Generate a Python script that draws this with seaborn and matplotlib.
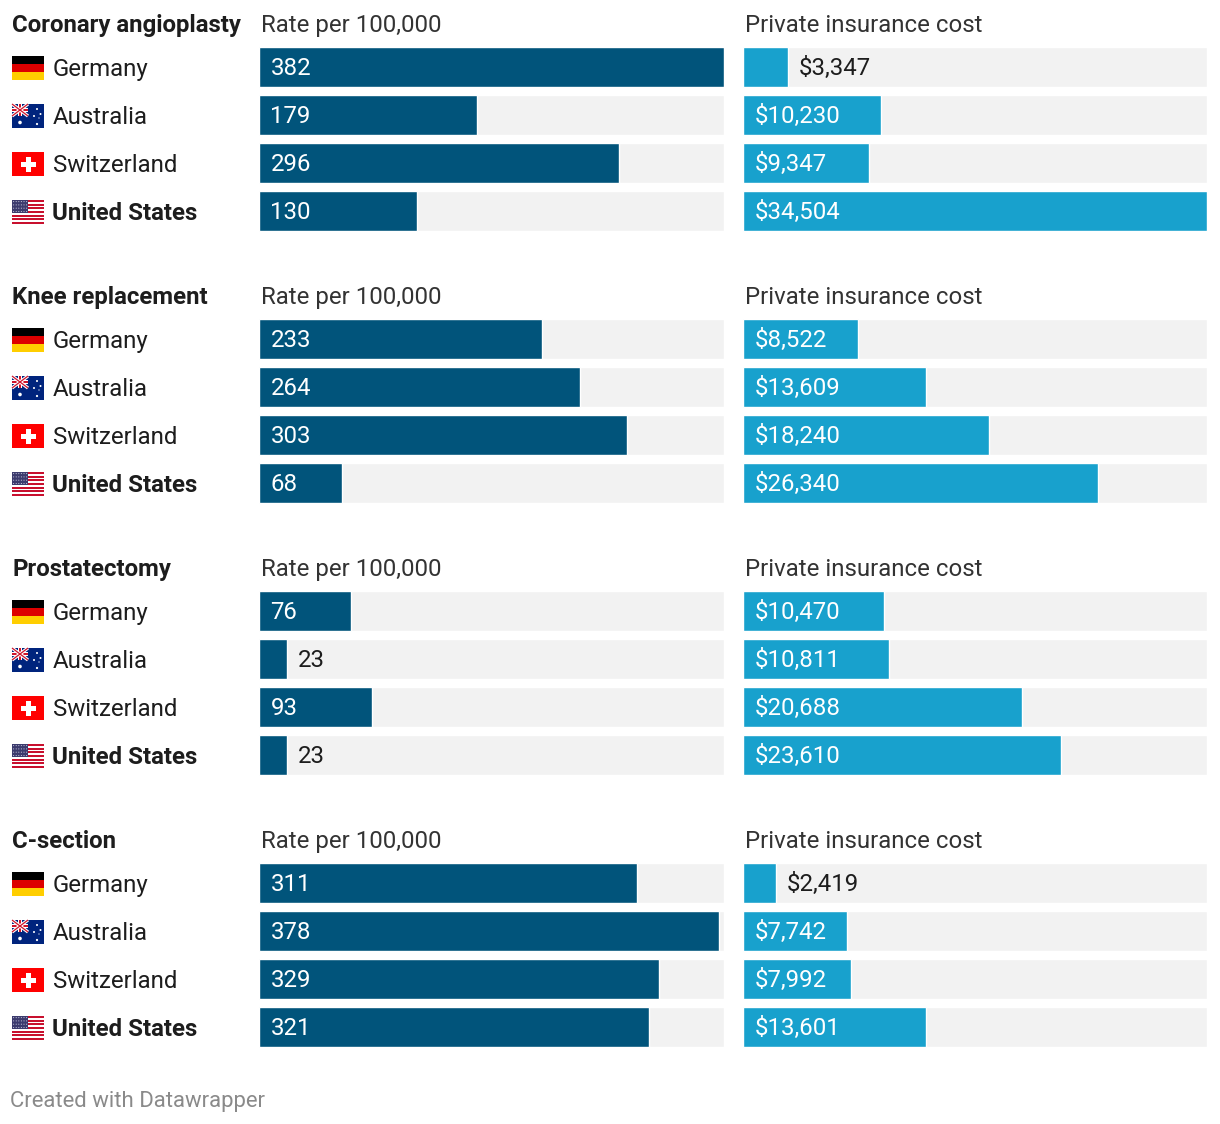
import matplotlib
matplotlib.use("Agg")
import matplotlib.pyplot as plt
import seaborn as sns
import pandas as pd
import numpy as np
from matplotlib.patches import Rectangle, Polygon, Circle

sns.set_theme(style="white")
plt.rcParams['font.family'] = ['Roboto', 'DejaVu Sans']

procedures = ["Coronary angioplasty", "Knee replacement", "Prostatectomy", "C-section"]
countries = ["Germany", "Australia", "Switzerland", "United States"]
rate_angioplasty = [382, 179, 296, 130]
rate_knee = [233, 264, 303, 68]
rate_prostate = [76, 23, 93, 23]
rate_csection = [311, 378, 329, 321]
cost_angioplasty = [3347, 10230, 9347, 34504]
cost_knee = [8522, 13609, 18240, 26340]
cost_prostate = [10470, 10811, 20688, 23610]
cost_csection = [2419, 7742, 7992, 13601]
rates = [rate_angioplasty, rate_knee, rate_prostate, rate_csection]
costs = [cost_angioplasty, cost_knee, cost_prostate, cost_csection]
rate_header = "Rate per 100,000"
cost_header = "Private insurance cost"
footer = "Created with Datawrapper"

W, H = 1220, 1124
DPI = 100
fig = plt.figure(figsize=(W / DPI, H / DPI), dpi=DPI)
fig.patch.set_facecolor("white")

DARK = "#01547b"
LIGHT = "#18a1cd"
BG = "#f2f2f2"
TXT = "#1d1d1d"
FS = 17.3

rate_max = max(max(r) for r in rates)
cost_max = max(max(c) for c in costs)

# overlay axes in pixel coordinates
ov = fig.add_axes([0, 0, 1, 1])
ov.set_xlim(0, W)
ov.set_ylim(H, 0)
ov.axis("off")
ov.set_zorder(5)

renderer = fig.canvas.get_renderer()

def text_width_px(s, weight="normal"):
    t = fig.text(0, 0, s, fontsize=FS, fontweight=weight)
    w = t.get_window_extent(renderer).width
    t.remove()
    return w

def draw_flag(name, cy):
    x0, w, h = 12, 32, 24
    y0 = cy - h / 2
    if name == "Germany":
        for k, c in enumerate(["#000000", "#dd0000", "#ffce00"]):
            ov.add_patch(Rectangle((x0, y0 + k * h / 3), w, h / 3, color=c, lw=0))
    elif name == "Switzerland":
        ov.add_patch(Rectangle((x0, y0), w, h, color="#ff0000", lw=0))
        cx, ccy = x0 + w / 2, cy
        ov.add_patch(Rectangle((cx - 2.5, ccy - 7.5), 5, 15, color="white", lw=0))
        ov.add_patch(Rectangle((cx - 7.5, ccy - 2.5), 15, 5, color="white", lw=0))
    elif name == "United States":
        sh = h / 13
        for k in range(13):
            ov.add_patch(Rectangle((x0, y0 + k * sh), w, sh,
                                   color="#c8102e" if k % 2 == 0 else "white", lw=0))
        ov.add_patch(Rectangle((x0, y0), w * 0.5, sh * 7, color="#3c3b6e", lw=0))
        for r in range(4):
            for c in range(6):
                ov.add_patch(Circle((x0 + 1.6 + c * 2.6, y0 + 1.6 + r * 3.3), 0.55,
                                    color="#c8c8dc", lw=0))
    elif name == "Australia":
        ov.add_patch(Rectangle((x0, y0), w, h, color="#00247d", lw=0))
        qw, qh = w / 2, h / 2
        ov.plot([x0, x0 + qw], [y0, y0 + qh], color="white", lw=2.4, solid_capstyle="butt")
        ov.plot([x0, x0 + qw], [y0 + qh, y0], color="white", lw=2.4, solid_capstyle="butt")
        ov.plot([x0, x0 + qw], [y0, y0 + qh], color="#cf142b", lw=0.9, solid_capstyle="butt")
        ov.plot([x0, x0 + qw], [y0 + qh, y0], color="#cf142b", lw=0.9, solid_capstyle="butt")
        ov.add_patch(Rectangle((x0 + qw / 2 - 2, y0), 4, qh, color="white", lw=0))
        ov.add_patch(Rectangle((x0, y0 + qh / 2 - 2), qw, 4, color="white", lw=0))
        ov.add_patch(Rectangle((x0 + qw / 2 - 1, y0), 2, qh, color="#cf142b", lw=0))
        ov.add_patch(Rectangle((x0, y0 + qh / 2 - 1), qw, 2, color="#cf142b", lw=0))
        ov.add_patch(Circle((x0 + 8, y0 + 18.5), 1.8, color="white", lw=0))
        for (sx, sy, r) in [(25, 5, 1.0), (28.5, 10, 1.0), (22, 12, 1.0), (25, 20, 1.1), (27, 14, 0.6)]:
            ov.add_patch(Circle((x0 + sx, y0 + sy), r, color="white", lw=0))

def bar_block(ax, vals, vmax, color, fmt):
    df = pd.DataFrame({"country": countries, "value": vals, "bg": [vmax] * len(vals)})
    sns.barplot(data=df, x="bg", y="country", orient="h", color=BG, width=40 / 48,
                saturation=1, ax=ax)
    sns.barplot(data=df, x="value", y="country", orient="h", color=color, width=40 / 48,
                saturation=1, ax=ax)
    ax.set_xlim(0, vmax)
    ax.axis("off")
    axw_px = ax.get_window_extent(renderer).width
    for i, v in enumerate(vals):
        s = fmt(v)
        tw = text_width_px(s)
        bw = v / vmax * axw_px
        if bw >= tw + 22:
            ax.annotate(s, xy=(0, i), xytext=(11.5 * 72 / DPI, 0.7), textcoords="offset points",
                        va="center_baseline", ha="left", fontsize=FS, color="white")
        else:
            ax.annotate(s, xy=(v, i), xytext=(11 * 72 / DPI, 0.7), textcoords="offset points",
                        va="center_baseline", ha="left", fontsize=FS, color=TXT)

for g, proc in enumerate(procedures):
    off = 272 * g
    top = 43.0 + off
    bottom = top + 192
    axL = fig.add_axes([259.0 / W, (H - bottom) / H, 464.5 / W, 192 / H])
    axR = fig.add_axes([743.0 / W, (H - bottom) / H, 464.5 / W, 192 / H])
    bar_block(axL, rates[g], rate_max, DARK, lambda v: f"{v}")
    bar_block(axR, costs[g], cost_max, LIGHT, lambda v: f"${v:,}")
    hy = 23.3 + off
    ov.text(12, hy, proc, fontsize=FS, fontweight="bold", color=TXT, va="center_baseline")
    ov.text(261, hy, rate_header, fontsize=FS, color="#333333", va="center_baseline")
    ov.text(745, hy, cost_header, fontsize=FS, color="#333333", va="center_baseline")
    for i, c in enumerate(countries):
        cy = 68 + off + 48 * i
        draw_flag(c, cy)
        ov.text(52.5, cy - 0.8, c, fontsize=FS, color=TXT, va="center_baseline",
                fontweight="bold" if c == "United States" else "normal")

ov.text(10, 1099.5, footer, fontsize=15.9, color="#8a8a8a", va="center_baseline")

fig.savefig("out.png", dpi=DPI, facecolor="white")
